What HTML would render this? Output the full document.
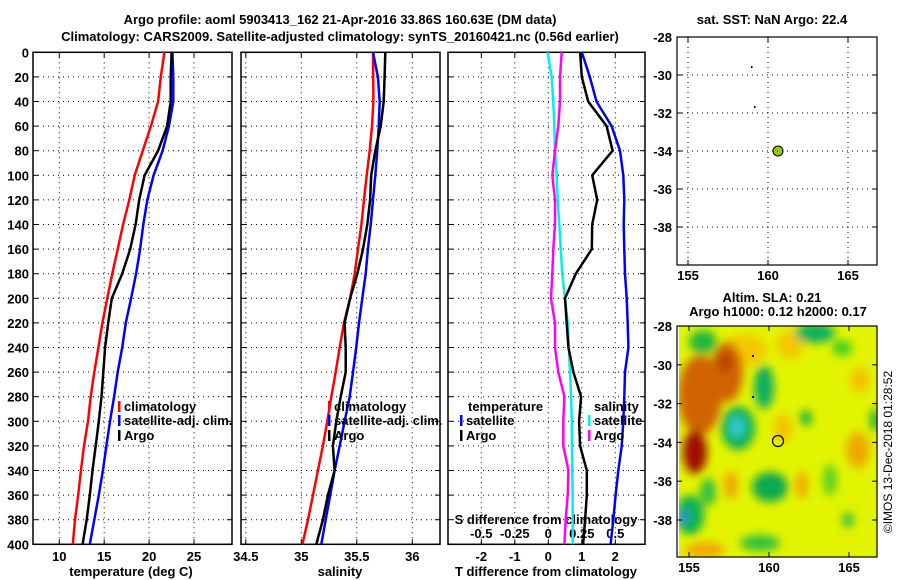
<!DOCTYPE html>
<html><head><meta charset="utf-8"><style>
body{margin:0;background:#fff}
svg{display:block;font-family:"Liberation Sans",sans-serif;font-weight:bold;font-size:13px}
</style></head><body>
<svg id="s" width="900" height="580" viewBox="0 0 900 580">
<defs>
<filter id="bl" x="-50%" y="-50%" width="200%" height="200%"><feGaussianBlur stdDeviation="4.5"/></filter>
<clipPath id="mc"><rect x="679" y="326" width="198" height="231"/></clipPath>
</defs>
<text x="340" y="24" text-anchor="middle">Argo profile: aoml 5903413_162 21-Apr-2016 33.86S 160.63E (DM data)</text>
<text x="340" y="41" text-anchor="middle">Climatology: CARS2009. Satellite-adjusted climatology: synTS_20160421.nc (0.56d earlier)</text>
<g>
<g clip-path="url(#mc)">
<rect x="679" y="326" width="198" height="231" fill="#e2f400"/>
<g filter="url(#bl)">
<ellipse cx="745" cy="350" rx="22" ry="16" fill="#f4c800"/>
<ellipse cx="790" cy="345" rx="14" ry="14" fill="#f4c800"/>
<ellipse cx="700" cy="395" rx="22" ry="40" fill="#d06400"/>
<ellipse cx="727" cy="372" rx="16" ry="30" fill="#d06400"/>
<ellipse cx="725" cy="362" rx="8" ry="10" fill="#b84400"/>
<ellipse cx="695" cy="452" rx="12" ry="22" fill="#a01000"/>
<ellipse cx="738" cy="428" rx="17" ry="22" fill="#10b050"/>
<ellipse cx="737" cy="427" rx="8" ry="11" fill="#30c8d0"/>
<ellipse cx="764" cy="387" rx="10" ry="22" fill="#10b060"/>
<ellipse cx="770" cy="487" rx="18" ry="15" fill="#10a850"/>
<ellipse cx="703" cy="342" rx="14" ry="12" fill="#20b840"/>
<ellipse cx="815" cy="333" rx="20" ry="10" fill="#10b060"/>
<ellipse cx="842" cy="348" rx="10" ry="8" fill="#40d020"/>
<ellipse cx="690" cy="515" rx="14" ry="20" fill="#10b050"/>
<ellipse cx="683" cy="517" rx="5" ry="8" fill="#2a90e0"/>
<ellipse cx="708" cy="492" rx="8" ry="14" fill="#30c040"/>
<ellipse cx="731" cy="485" rx="7" ry="14" fill="#f0a800"/>
<ellipse cx="802" cy="485" rx="6" ry="14" fill="#f0a800"/>
<ellipse cx="783" cy="428" rx="9" ry="14" fill="#f4c000"/>
<ellipse cx="858" cy="450" rx="12" ry="18" fill="#f0a800"/>
<ellipse cx="806" cy="418" rx="6" ry="8" fill="#20b040"/>
<ellipse cx="830" cy="480" rx="7" ry="16" fill="#60d020"/>
<ellipse cx="860" cy="380" rx="10" ry="12" fill="#f4c000"/>
<ellipse cx="705" cy="550" rx="20" ry="8" fill="#f0a800"/>
<ellipse cx="760" cy="543" rx="20" ry="8" fill="#30c040"/>
<ellipse cx="875" cy="420" rx="5" ry="12" fill="#20b040"/>
<ellipse cx="848" cy="520" rx="6" ry="8" fill="#40c040"/>
</g></g>
<circle cx="778" cy="441" r="5.5" fill="none" stroke="#000" stroke-width="1.2"/>
<rect x="752" y="355" width="2" height="2" fill="#000"/><rect x="752" y="396" width="2" height="2" fill="#000"/>
</g>
<text x="772" y="302" text-anchor="middle">Altim. SLA: 0.21</text>
<text x="778" y="316" text-anchor="middle">Argo h1000: 0.12 h2000: 0.17</text>
<text x="772" y="24" text-anchor="middle">sat. SST: NaN Argo: 22.4</text>
<circle cx="778" cy="151" r="5" fill="#90d000" stroke="#000" stroke-width="1"/>
<rect x="751" y="66" width="1.5" height="2" fill="#000"/><rect x="754" y="106" width="1.5" height="2" fill="#000"/>
<text transform="translate(892,452) rotate(-90)" text-anchor="middle" font-weight="normal" font-size="12">©IMOS 13-Dec-2018 01:28:52</text>
<g id="g"></g>
</svg>
<script>
const depths=[0,20,40,60,80,100,120,140,160,180,200,220,240,260,280,300,320,340,360,380,400];
const tClim=[21.7,21.3,21.0,20.2,19.3,18.4,17.8,17.1,16.5,15.9,15.35,14.8,14.35,13.9,13.5,13.2,12.75,12.4,12.1,11.75,11.5];
const tSat=[22.6,22.7,22.7,22.2,21.5,20.5,19.8,19.35,19.0,18.55,18.0,17.4,17.0,16.5,16.1,15.65,15.25,14.85,14.4,13.9,13.4];
const tArgo=[22.5,22.4,22.4,22.0,21.0,19.5,18.9,18.5,17.9,17.0,15.85,15.45,15.1,14.9,14.7,14.4,14.05,13.7,13.4,13.05,12.6];
const sClim=[35.646,35.648,35.65,35.637,35.616,35.589,35.565,35.541,35.511,35.481,35.44,35.385,35.346,35.31,35.27,35.234,35.195,35.15,35.105,35.06,35.01];
const sSat=[35.646,35.69,35.706,35.697,35.685,35.667,35.646,35.625,35.60,35.58,35.55,35.52,35.495,35.466,35.436,35.39,35.346,35.30,35.26,35.22,35.18];
const sArgo=[35.757,35.75,35.742,35.715,35.667,35.63,35.62,35.595,35.556,35.505,35.44,35.39,35.40,35.40,35.355,35.315,35.285,35.30,35.24,35.195,35.135];
const dtSat=[1.0,1.24,1.44,1.89,2.14,2.24,2.27,2.25,2.27,2.29,2.34,2.37,2.39,2.29,2.27,2.24,2.19,2.09,2.01,1.94,1.86];
const dtArgo=[0.95,1.0,1.19,1.74,1.92,1.31,1.46,1.31,1.3,0.82,0.5,0.55,0.6,0.75,0.98,0.92,0.95,1.15,1.15,1.1,1.04];
const dsSat=[-0.005,0.025,0.037,0.045,0.05,0.063,0.07,0.082,0.093,0.104,0.125,0.145,0.154,0.162,0.17,0.175,0.176,0.179,0.181,0.182,0.182];
const dsArgo=[0.1,0.087,0.087,0.075,0.05,0.03,0.05,0.05,0.037,0.03,0.02,0.05,0.05,0.075,0.12,0.112,0.112,0.15,0.145,0.13,0.12];
const depthTicks=[0,20,40,60,80,100,120,140,160,180,200,220,240,260,280,300,320,340,360,380,400];
const tTicks=[10,15,20,25], sTicks=[34.5,35,35.5,36], dtTicks=[-2,-1,0,1,2], dsTicks=[-0.5,-0.25,0,0.25,0.5];
const latTicks=[-28,-30,-32,-34,-36,-38], lonTicks=[155,160,165];

const NS='http://www.w3.org/2000/svg', G=document.getElementById('g');
function mk(t,a,txt,p){const e=document.createElementNS(NS,t);for(const k in a)e.setAttribute(k,a[k]);if(txt!==undefined)e.textContent=txt;(p||G).appendChild(e);return e;}
const Y0=52.3,Y1=544.3;
const yD=d=>Y0+d*(Y1-Y0)/400;
const xT=v=>59.3+(v-10)*8.98, xS=v=>301.3+(v-35)*111, xDT=v=>548.3+v*33.5, xDS=v=>548.3+v*4*33.5;
function frame(x0,x1,name){
  const r=mk('rect',{x:x0,y:Y0,width:x1-x0,height:Y1-Y0,fill:'none',stroke:'#000','stroke-width':1.5});
  
  
  depthTicks.forEach(d=>{if(d>0&&d<400){const l=mk('line',{x1:x0,x2:x1,y1:yD(d),y2:yD(d),stroke:'#000','stroke-dasharray':'1 4'});
    
    }
    mk('line',{x1:x0,x2:x0+5,y1:yD(d),y2:yD(d),stroke:'#000'});mk('line',{x1:x1-5,x2:x1,y1:yD(d),y2:yD(d),stroke:'#000'});});
}
function vgrid(ticks,fx,ly,name){ticks.forEach(v=>{const x=fx(v);
  const l=mk('line',{x1:x,x2:x,y1:Y0,y2:Y1,stroke:'#000','stroke-dasharray':'1 4'});
  
  
  mk('line',{x1:x,x2:x,y1:Y1-5,y2:Y1,stroke:'#000'});mk('line',{x1:x,x2:x,y1:Y0,y2:Y0+5,stroke:'#000'});
  if(ly){const t=mk('text',{x:x,y:ly,'text-anchor':'middle'},String(v));
  
  }});}
function line(vals,fx,col,name){const d=vals.map((v,i)=>(i?'L':'M')+fx(v).toFixed(1)+','+yD(depths[i]).toFixed(1)).join('');
  const p=mk('path',{d:d,fill:'none',stroke:col,'stroke-width':2.5});
  
  }
function leg(x,y,col,txt,name){mk('rect',{x:x,y:y-10,width:2.5,height:11,fill:col});const t=mk('text',{x:x+6,y:y},txt);
  
  }

frame(33,232,'temperature-panel');frame(241,440,'salinity-panel');frame(448,645,'difference-panel');
depthTicks.forEach(d=>{const t=mk('text',{x:29,y:yD(d)+5,'text-anchor':'end'},String(d));
  
  });
vgrid(tTicks,xT,561,'temperature-tick-label');
vgrid(sTicks,xS,561,'salinity-tick-label');
vgrid(dtTicks,xDT,561,'t-diff-tick-label');
dsTicks.forEach(v=>{const t=mk('text',{x:xDS(v),y:538,'text-anchor':'middle'},String(v));
  
  });
[['temperature (deg C)',131,'temperature-axis-title'],['salinity',340,'salinity-axis-title'],['T difference from climatology',546,'t-diff-axis-title']].forEach(a=>{
  const t=mk('text',{x:a[1],y:576,'text-anchor':'middle'},a[0]);
  
  });
const st=mk('text',{x:546,y:524,'text-anchor':'middle'},'S difference from climatology');



line(tClim,xT,'#f00','temp-climatology-line');line(tSat,xT,'#00f','temp-satellite-line');line(tArgo,xT,'#000','temp-argo-line');
line(sClim,xS,'#f00','sal-climatology-line');line(sSat,xS,'#00f','sal-satellite-line');line(sArgo,xS,'#000','sal-argo-line');
line(dsSat,xDS,'#0ee','sdiff-satellite-line');line(dsArgo,xDS,'#f0f','sdiff-argo-line');
line(dtSat,xDT,'#00f','tdiff-satellite-line');line(dtArgo,xDT,'#000','tdiff-argo-line');

leg(118,411,'#f00','climatology','legend-climatology');leg(118,425,'#00f','satellite-adj. clim.','legend-satellite-adj');leg(118,440,'#000','Argo','legend-argo');
leg(328,411,'#f00','climatology','legend-climatology-2');leg(328,425,'#00f','satellite-adj. clim.','legend-satellite-adj-2');leg(328,440,'#000','Argo','legend-argo-2');
const tt=mk('text',{x:468,y:411},'temperature');
leg(460,425,'#00f','satellite','legend-t-satellite');leg(460,440,'#000','Argo','legend-t-argo');
const sh=mk('text',{x:594,y:411},'salinity');
leg(588,425,'#0ee','satellite','legend-s-satellite');leg(588,440,'#f0f','Argo','legend-s-argo');

function map(y0,y1,latY,lonX,name){
  const r=mk('rect',{x:677,y:y0,width:200,height:y1-y0,fill:'none',stroke:'#000','stroke-width':1.2});
  
  
  latTicks.forEach(v=>{const y=latY(v);
    if(name==='sst-map'){const l=mk('line',{x1:677,x2:877,y1:y,y2:y,stroke:'#000','stroke-dasharray':'1 4'});}
    mk('line',{x1:677,x2:682,y1:y,y2:y,stroke:'#000'});mk('line',{x1:872,x2:877,y1:y,y2:y,stroke:'#000'});
    const t=mk('text',{x:672,y:y+5,'text-anchor':'end'},String(v));});
  lonTicks.forEach(v=>{const x=lonX(v);
    if(name==='sst-map'){const l=mk('line',{x1:x,x2:x,y1:y0,y2:y1,stroke:'#000','stroke-dasharray':'1 4'});}
    mk('line',{x1:x,x2:x,y1:y1-5,y2:y1,stroke:'#000'});mk('line',{x1:x,x2:x,y1:y0,y2:y0+5,stroke:'#000'});
    const t=mk('text',{x:x,y:y1+15,'text-anchor':'middle'},String(v));});
}
map(37,265,v=>37+(-28-v)*19,v=>688+(v-155)*16,'sst-map');
map(326,557,v=>326+(-28-v)*19.4,v=>689+(v-155)*16,'sla-map-frame');
</script>
</body></html>
